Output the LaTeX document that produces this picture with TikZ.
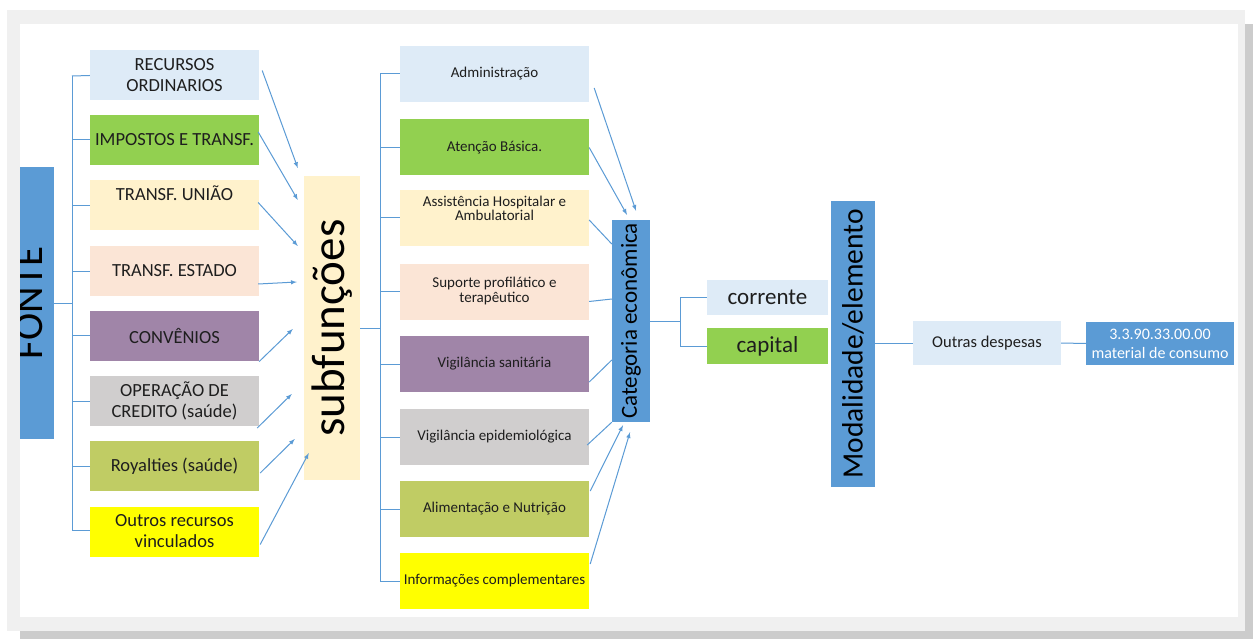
\documentclass[tikz,border=0pt]{standalone}
\usepackage{fontspec}
\setmainfont{Carlito}
\usepackage{tikz}
\usetikzlibrary{calc, arrows}
\definecolor{azul}{HTML}{5B9BD5}
\definecolor{azulclaro}{HTML}{DEEBF7}
\definecolor{verde}{HTML}{92D050}
\definecolor{creme}{HTML}{FFF2CC}
\definecolor{pessego}{HTML}{FBE5D6}
\definecolor{roxo}{HTML}{A085A8}
\definecolor{cinza}{HTML}{D0CECE}
\definecolor{oliva}{HTML}{C0CC64}
\definecolor{amarelo}{HTML}{FFFF00}
\definecolor{texto}{HTML}{1E1E1E}
\tikzstyle{caixa} = [inner sep=0pt, align=center, text=texto]
\tikzstyle{fontebox} = [caixa, minimum width=169pt, minimum height=50pt, font=\fontsize{18.5}{21}\selectfont]
\tikzstyle{subbox} = [caixa, minimum width=189pt, minimum height=56pt, font=\fontsize{15}{15}\selectfont]
\tikzstyle{liga} = [draw=azul, line width=1pt]
\tikzstyle{seta} = [->,>=latex, liga]

\begin{document}
\begin{tikzpicture}[x=1pt,y=-1pt]
\useasboundingbox (0,0) rectangle (1253,639);
% moldura
\fill[black!20] (20,24) rectangle (1253,639);
\fill[black!6] (7,10) rectangle (1245,631);
\fill[white] (20,24) rectangle (1238,617);

% fonte
\node[fill=azul, minimum width=34pt, minimum height=272pt, inner sep=0pt] (fonte) at (37,303) {};
\begin{scope}
\clip (20,24) rectangle (1238,617);
\node[rotate=90, inner sep=0pt, font=\fontsize{41}{41}\selectfont] (fontetxt) at (29,303) {FONTE};
\end{scope}

\node[fontebox, fill=azulclaro] (rec) at (174.5,75.5) {RECURSOS\\ORDINARIOS};
\node[fontebox, fill=verde] (imp) at (174.5,140) {IMPOSTOS E TRANSF.};
\node[fontebox, fill=creme, label={[font=\fontsize{18.5}{21}\selectfont, text=texto, below=2pt]north:TRANSF. UNIÃO}] (uniao) at (174.5,205.5) {};
\node[fontebox, fill=pessego] (estado) at (174.5,271) {TRANSF. ESTADO};
\node[fontebox, fill=roxo] (conv) at (174.5,335.5) {CONVÊNIOS};
\node[fontebox, fill=cinza] (oper) at (174.5,401) {OPERAÇÃO DE\\CREDITO (saúde)};
\node[fontebox, fill=oliva] (roy) at (174.5,466) {Royalties (saúde)};
\node[fontebox, fill=amarelo] (outros) at (174.5,531.5) {Outros recursos\\vinculados};

\draw[liga] (fonte.east) -- (72,303);
\draw[liga] (72,76) -- (72,530);
\draw[liga] (72,76) -- (rec.west);
\draw[liga] (72,140) -- (imp.west);
\draw[liga] (72,205.5) -- (uniao.west);
\draw[liga] (72,271) -- (estado.west);
\draw[liga] (72,335.5) -- (conv.west);
\draw[liga] (72,401) -- (oper.west);
\draw[liga] (72,466) -- (roy.west);
\draw[liga] (72,530) -- (outros.west |- 0,530);

% subfuncoes
\node[caixa, fill=creme, minimum width=56pt, minimum height=304pt] (sub) at (332,328) {};
\node[rotate=90, inner sep=0pt, text=black, font=\fontsize{47}{47}\selectfont] (subtxt) at (sub.center) {subfunções};

\draw[seta] ($(rec.east)+(3,-5)$) -- ($(sub.west)+(-6,-160)$);
\draw[seta] ($(imp.east)+(-1,-8)$) -- ($(sub.west)+(-6,-128)$);
\draw[seta] ($(uniao.east)+(-1,-3)$) -- ($(sub.west)+(-6,-82)$);
\draw[seta] ($(estado.east)+(-1,13)$) -- ($(sub.west)+(-7,-46)$);
\draw[seta] ($(conv.east)+(0,26)$) -- ($(sub.west)+(-11,1)$);
\draw[seta] ($(oper.east)+(-2,27)$) -- ($(sub.west)+(-12,66)$);
\draw[seta] ($(roy.east)+(1,7)$) -- ($(sub.west)+(-9,111)$);
\draw[seta] ($(outros.east)+(1,13)$) -- ($(sub.west)+(5,125)$);

\node[subbox, fill=azulclaro] (adm) at (494.5,74) {Administração};
\node[subbox, fill=verde] (basica) at (494.5,147.5) {Atenção Básica.};
\node[subbox, fill=creme, label={[font=\fontsize{15}{14}\selectfont, text=texto, align=center, below=3pt]north:Assistência Hospitalar e\\Ambulatorial}] (hosp) at (494.5,218) {};
\node[subbox, fill=pessego] (sup) at (494.5,291.5) {Suporte profilático e\\terapêutico};
\node[subbox, fill=roxo] (vsan) at (494.5,364) {Vigilância sanitária};
\node[subbox, fill=cinza] (vepi) at (494.5,437) {Vigilância epidemiológica};
\node[subbox, fill=oliva] (alim) at (494.5,509) {Alimentação e Nutrição};
\node[subbox, fill=amarelo] (info) at (494.5,581) {Informações complementares};

\draw[liga] (sub.east) -- (380,328);
\draw[liga] (380,74) -- (380,581);
\draw[liga] (380,74) -- (adm.west);
\draw[liga] (380,147.5) -- (basica.west);
\draw[liga] (380,218) -- (hosp.west);
\draw[liga] (380,291.5) -- (sup.west);
\draw[liga] (380,364) -- (vsan.west);
\draw[liga] (380,437) -- (vepi.west);
\draw[liga] (380,509) -- (alim.west);
\draw[liga] (380,581) -- (info.west);

% categoria economica
\node[caixa, fill=azul, minimum width=38pt, minimum height=202pt] (cat) at (631,321) {};
\node[rotate=90, inner sep=0pt, text=black, font=\fontsize{23}{23}\selectfont] (cattxt) at (cat.center) {Categoria econômica};

\draw[seta] ($(adm.east)+(5,14)$) -- ($(cat.north)+(5,-9)$);
\draw[seta] ($(basica.east)+(0,0)$) -- ($(cat.north)+(-4,-5)$);
\draw[liga] ($(hosp.east)+(0,2)$) -- ($(cat.west)+(0,-77)$);
\draw[liga] ($(sup.east)+(0,10)$) -- ($(cat.west)+(0,-22)$);
\draw[liga] ($(vsan.east)+(0,18)$) -- ($(cat.west)+(0,39)$);
\draw[liga] ($(vepi.east)+(-2,8)$) -- (cat.south west);
\draw[seta] ($(alim.east)+(1,-18)$) -- ($(cat.south)+(-8,3)$);
\draw[seta] ($(info.east)+(1,-17)$) -- ($(cat.south)+(-1,10)$);

\node[caixa, fill=azulclaro, minimum width=121pt, minimum height=35pt, font=\fontsize{23}{24}\selectfont] (corr) at (767.5,297.5) {corrente};
\node[caixa, fill=verde, minimum width=121pt, minimum height=36pt, font=\fontsize{23}{24}\selectfont] (cap) at (767.5,346) {capital};

\draw[liga] (cat.east) -- (680,321);
\draw[liga] (680,297.5) -- (680,346);
\draw[liga] (680,297.5) -- (corr.west);
\draw[liga] (680,346) -- (cap.west);

% modalidade / elemento
\node[caixa, fill=azul, minimum width=44pt, minimum height=286pt] (mod) at (853,344) {};
\node[rotate=90, inner sep=0pt, text=black, font=\fontsize{29.5}{29.5}\selectfont] (modtxt) at (mod.center) {Modalidade/elemento};

\node[caixa, fill=azulclaro, minimum width=148pt, minimum height=44pt, font=\fontsize{16.5}{18}\selectfont] (desp) at (987,343) {Outras despesas};
\node[caixa, fill=azul, text=white, minimum width=148pt, minimum height=43pt, font=\fontsize{16}{19}\selectfont] (mat) at (1160,343.5) {3.3.90.33.00.00\\material de consumo};

\draw[liga] (mod.east |- desp.west) -- (desp.west);
\draw[liga] (desp.east) -- (mat.west);
\end{tikzpicture}
\end{document}
